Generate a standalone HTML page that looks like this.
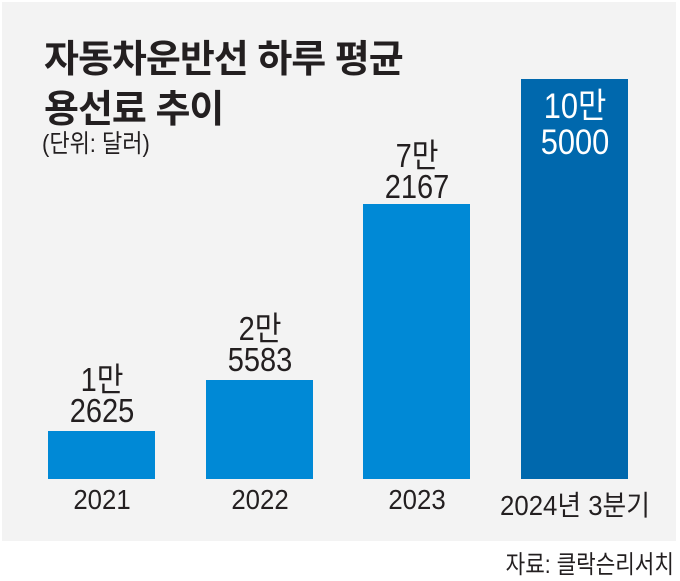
<!DOCTYPE html>
<html><head><meta charset="utf-8"><style>
body{margin:0;width:680px;height:577px;background:#fff;position:relative;overflow:hidden;font-family:"Liberation Sans","Noto Sans CJK KR",sans-serif;color:#231f20}
.panel{position:absolute;left:2px;top:2px;width:674px;height:539px;background:#f3f3f3}
.t{position:absolute;white-space:nowrap}
.title{left:44px;font-weight:bold;font-size:38px;letter-spacing:-1px;transform-origin:left top}
.bar{position:absolute;background:#0089d6}
.v{position:absolute;width:160px;text-align:center;font-size:33px;line-height:31px;transform:scaleX(0.88)}
.y{position:absolute;width:200px;text-align:center;font-size:28px;top:484px;transform:scaleX(0.92)}
</style></head><body>
<div class="panel"></div>
<div class="t title" style="top:28px">자동차운반선 하루 평균</div>
<div class="t title" style="top:78px">용선료 추이</div>
<div class="t" style="left:42px;top:124px;font-size:25px;transform:scaleX(0.88);transform-origin:left top">(단위: 달러)</div>

<div class="bar" style="left:48px;top:431px;width:107px;height:48px"></div>
<div class="bar" style="left:206px;top:380px;width:107px;height:99px"></div>
<div class="bar" style="left:363px;top:204px;width:107px;height:275px"></div>
<div class="bar" style="left:521px;top:79px;width:107px;height:400px;background:#0068ad"></div>

<div class="v" style="left:22px;top:364px">1만<br>2625</div>
<div class="v" style="left:180px;top:313px">2만<br>5583</div>
<div class="v" style="left:337px;top:140px">7만<br>2167</div>
<div class="v" style="left:495px;top:89px;color:#fff;font-size:35px;line-height:36px">10만<br>5000</div>

<div class="y" style="left:2px">2021</div>
<div class="y" style="left:160px">2022</div>
<div class="y" style="left:317px">2023</div>
<div class="y" style="left:475px">2024년 3분기</div>

<div class="t" style="right:6px;top:545px;font-size:25px;transform:scaleX(0.85);transform-origin:right top">자료: 클락슨리서치</div>
</body></html>
